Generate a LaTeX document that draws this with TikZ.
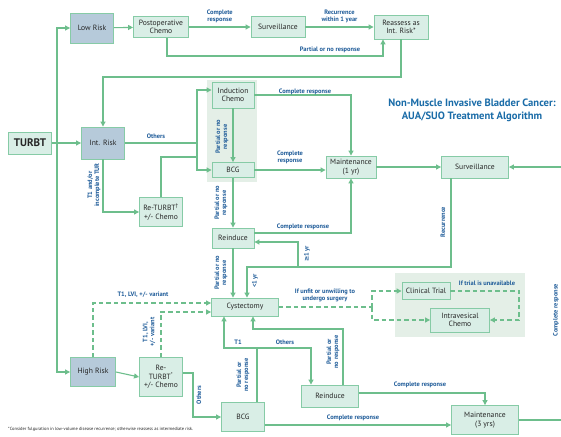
\documentclass[tikz,border=0pt]{standalone}
\usepackage{fontspec}
\setmainfont{PT Sans}
\newfontfamily\symf{DejaVu Sans}
\usetikzlibrary{arrows.meta}
\definecolor{lineg}{HTML}{6DBE8C}
\definecolor{boxf}{HTML}{D9EEE6}
\definecolor{boxb}{HTML}{86CBA6}
\definecolor{riskf}{HTML}{B6CADA}
\definecolor{labc}{HTML}{1F5C99}
\definecolor{txt}{HTML}{262626}
\definecolor{panelf}{HTML}{E4EFE7}
\definecolor{titlec}{HTML}{1A6CA8}
\tikzset{
 line/.style={draw=lineg, line width=1.1pt},
 arr/.style={line, -{Triangle[length=5pt,width=5pt]}},
 dline/.style={line, dash pattern=on 4.5pt off 3pt},
 darr/.style={dline, -{Triangle[length=5pt,width=5pt]}},
 gbox/.style={draw=boxb, fill=boxf, line width=0.9pt, align=center, font=\fontsize{7.6}{8.6}\selectfont, text=txt, inner sep=1pt},
 rbox/.style={gbox, fill=riskf},
 lab/.style={font=\bfseries\fontsize{6.4}{7}\selectfont, text=labc, align=center, inner sep=0.5pt},
 rlab/.style={lab, rotate=90},
}
\begin{document}
\begin{tikzpicture}[x=1pt,y=-1pt]
\useasboundingbox[fill=white] (0,0) rectangle (561,436);
% panels
\fill[panelf] (207,80) rectangle (257,182);
\fill[panelf] (395,273) rectangle (525,337);
% nodes
\node[gbox, minimum width=43pt, minimum height=22pt, font=\bfseries\fontsize{11}{12}\selectfont] (turbt) at (30,143) {TURBT};
\node[rbox, minimum width=43pt, minimum height=30pt] (low) at (92,28) {Low Risk};
\node[gbox, minimum width=55pt, minimum height=21pt] (postop) at (161,27) {Postoperative\\Chemo};
\node[gbox, minimum width=54pt, minimum height=21pt] (surv1) at (278,27) {Surveillance};
\node[gbox, minimum width=54pt, minimum height=24pt] (reassess) at (401,27) {Reassess as\\Int. Risk*};
\node[rbox, minimum width=43pt, minimum height=32pt] (intrisk) at (103,143) {Int. Risk};
\node[gbox, minimum width=42pt, minimum height=26pt] (ind) at (233,95) {Induction\\Chemo};
\node[gbox, minimum width=42pt, minimum height=15pt] (bcg1) at (233,170) {BCG};
\node[gbox, minimum width=50pt, minimum height=22pt] (maint1) at (351,167) {Maintenance\\(1 yr)};
\node[gbox, minimum width=67pt, minimum height=22pt] (surv2) at (475,167) {Surveillance};
\node[gbox, minimum width=43pt, minimum height=29pt] (retur1) at (161,212) {Re-TURBT\textsuperscript{†}\\+/- Chemo};
\node[gbox, minimum width=42pt, minimum height=20pt] (reind1) at (233,238) {Reinduce};
\node[gbox, minimum width=67pt, minimum height=18pt] (cyst) at (245,307) {Cystectomy};
\node[gbox, minimum width=48pt, minimum height=17pt] (clin) at (426,291) {Clinical Trial};
\node[gbox, minimum width=59pt, minimum height=24pt] (intrav) at (460,320) {Intravesical\\Chemo};
\node[rbox, minimum width=45pt, minimum height=29pt] (high) at (93,372) {High Risk};
\node[gbox, minimum width=43pt, minimum height=39pt] (retur2) at (161,377) {Re-\\TURBT\textsuperscript{*}\\+/- Chemo};
\node[gbox, minimum width=43pt, minimum height=29pt] (bcg2) at (243,417) {BCG};
\node[gbox, minimum width=57pt, minimum height=22pt] (reind2) at (330,396) {Reinduce};
\node[gbox, minimum width=67pt, minimum height=29pt] (maint3) at (485,420) {Maintenance\\(3 yrs)};
% title and footnote
\node[font=\bfseries\fontsize{10.6}{13}\selectfont, text=titlec, align=center] (title) at (472,110) {Non-Muscle Invasive Bladder Cancer:\\AUA/SUO Treatment Algorithm};
\node[anchor=west, font=\fontsize{4.5}{5}\selectfont, text=txt, inner sep=0pt] (foot) at (8,429) {*Consider fulguration in low-volume disease recurrence; otherwise reassess as intermediate risk.};
% coordinates
\coordinate (j0) at (57,143);
\coordinate (pr) at (383,56);
\coordinate (r77) at (401,77);
\coordinate (jo) at (197,143);
\coordinate (jo2) at (197,157);
\coordinate (re1) at (566,167);
\coordinate (s267) at (451,267);
\coordinate (b298) at (298,267);
\coordinate (jd) at (372,307);
\coordinate (jt) at (519,291);
\coordinate (o416) at (193,417);
\coordinate (k348) at (257,348);
\coordinate (m329) at (343,329);
% connectors
\draw[arr] (turbt.east) -- (intrisk.west);
\draw[arr] (j0) |- (low.west);
\draw[arr] (j0) |- (high.west);
\draw[arr] (low) -- (postop);
\draw[arr] (postop) -- node[lab, above=3pt] {Complete\\response} (surv1);
\draw[arr] (surv1) -- node[lab, above=3pt] {Recurrence\\within 1 year} (reassess);
\draw[arr] ([xshift=6pt]postop.south) |- (pr) -- ([xshift=-18pt]reassess.south);
\node[lab] at (330,50) {Partial or no response};
\draw[arr] (reassess.south) -- (r77) -| (intrisk.north);
\draw[line] (intrisk.east) -- (jo);
\node[lab] at (156,136) {Others};
\draw[arr] (jo) |- ([yshift=5pt]ind.west);
\draw[arr] (jo) |- (bcg1.west);
\draw[line] (retur1.north) |- (jo2);
\draw[arr] (intrisk.south) |- (retur1.west);
\node[rlab] at (94,185) {T1 and/or\\incomplete TUR};
\draw[arr] (ind.east) -| (maint1.north);
\node[lab] at (305,92) {Complete response};
\draw[arr] (ind.south) -- (bcg1.north);
\node[rlab] at (222,137) {Partial or no\\response};
\draw[arr] (bcg1.east) -- (bcg1.east -| maint1.west);
\node[lab] at (290,157) {Complete\\response};
\draw[arr] (maint1.east) -- (surv2.west);
\draw[line] (maint3.east) -| (re1);
\draw[arr] (re1) -- (surv2.east);
\node[rlab] at (556,310) {Complete response};
\draw[arr] (bcg1.south) -- (reind1.north);
\node[rlab] at (221,203) {Partial or no\\response};
\draw[arr] (reind1.south) -- ([xshift=-12pt]cyst.north);
\node[rlab] at (221,273) {Partial or no\\response};
\draw[arr] ([yshift=5pt]reind1.east) -| (maint1.south);
\node[lab] at (303,227) {Complete response};
\draw[arr] ([xshift=-24pt]surv2.south) -- (s267) -| ([xshift=2pt]cyst.north);
\node[rlab] at (443,222) {Recurrence};
\draw[arr] (b298) |- ([yshift=-4pt]reind1.east);
\node[rlab] at (307,254) {{\symf\bfseries ≥}1 yr};
\node[rlab] at (255,281) {<1 yr};
\draw[dline] (cyst.east) -- (jd);
\draw[darr] (jd) |- (clin.west);
\draw[darr] (jd) |- (intrav.west);
\node[lab] at (325,295) {If unfit or unwilling to\\undergo surgery};
\draw[darr] (clin.east) -- (jt) |- (intrav.east);
\node[lab] at (487,283) {If trial is unavailable};
\draw[darr] (high.north) |- ([yshift=4pt]cyst.west);
\node[lab] at (143,295) {T1, LVI, +/- variant};
\draw[darr] (retur2.north) |- ([yshift=-5pt]cyst.west);
\node[rlab] at (149,332) {T1, LVI,\\+/- variant};
\draw[arr] (high.east) -- (retur2.west);
\draw[arr] ([yshift=4pt]retur2.east) -| (o416) -- (bcg2.west);
\node[rlab] at (199,395) {Others};
\draw[line] ([xshift=14pt]bcg2.north) -- (k348);
\draw[arr] (k348) -| ([xshift=-21pt]cyst.south);
\draw[arr] (k348) -| ([xshift=-19pt]reind2.north);
\node[lab] at (238,342) {T1};
\node[lab] at (285,342) {Others};
\node[rlab] at (243,375) {Partial or\\no response};
\draw[arr] ([xshift=13pt]reind2.north) -- (m329) -| ([xshift=8pt]cyst.south);
\node[rlab] at (333,352) {Partial or\\no response};
\draw[arr] ([yshift=3pt]reind2.east) -| (maint3.north);
\node[lab] at (420,385) {Complete response};
\draw[arr] ([yshift=-8pt]bcg2.east) -- ([yshift=-8pt]bcg2.east -| maint3.west);
\node[lab] at (353,418) {Complete response};
\end{tikzpicture}
\end{document}
